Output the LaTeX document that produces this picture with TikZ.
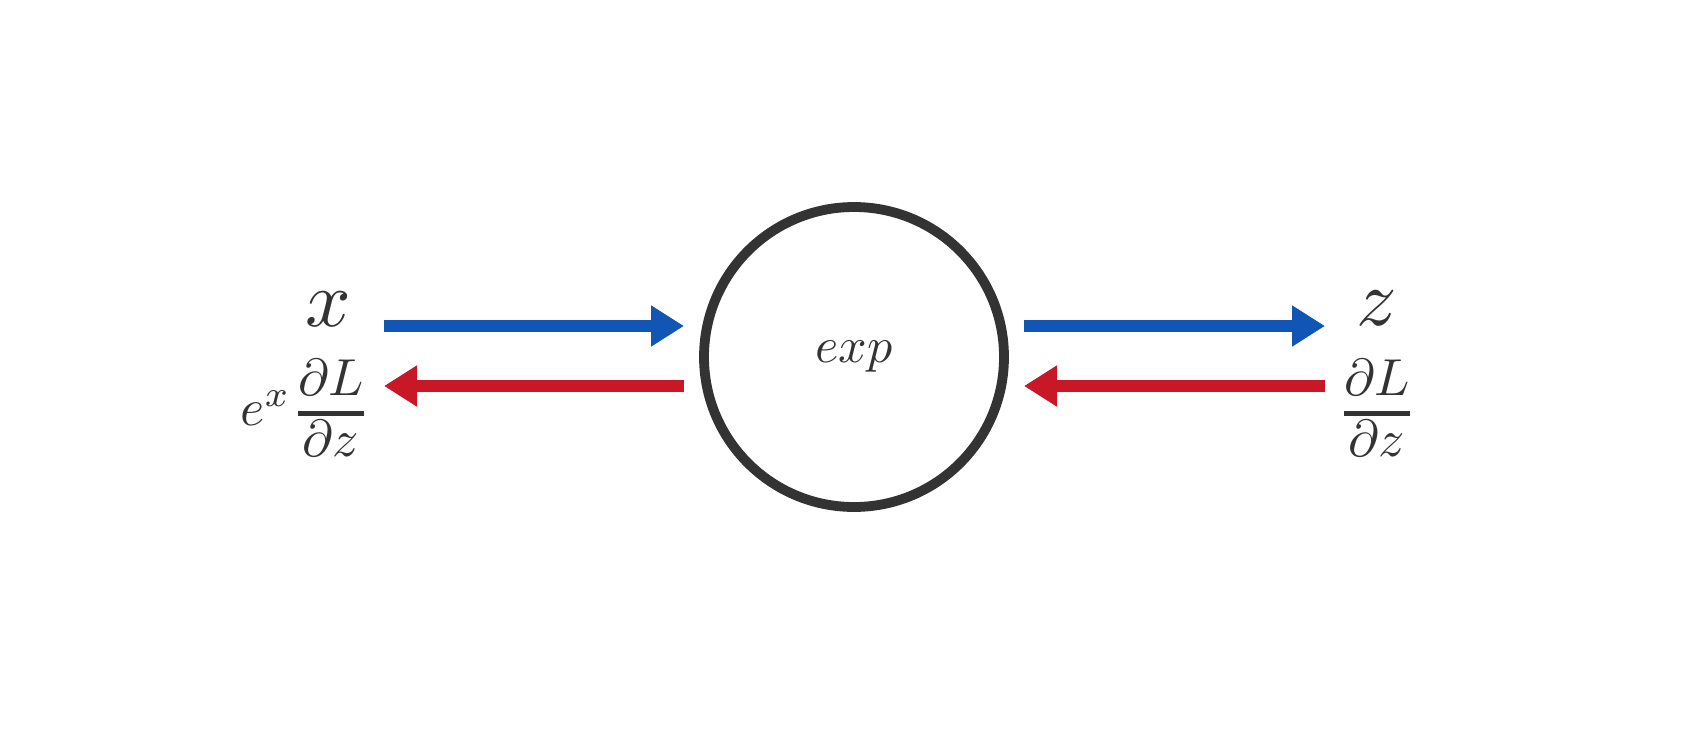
\documentclass[tikz,border=0pt]{standalone}
\usepackage{amsmath}
\usepackage{graphicx}
\usetikzlibrary{arrows.meta}
\definecolor{fwdblue}{HTML}{1155B5}
\definecolor{bwdred}{HTML}{C81828}
\definecolor{ink}{HTML}{333333}
\begin{document}
\begin{tikzpicture}[x=0.5pt,y=-0.5pt,
  fwd/.style={draw=fwdblue, line width=6.35pt, -{Triangle[length=16.5pt,width=19.5pt]}},
  bwd/.style={draw=bwdred, line width=6.35pt, -{Triangle[length=16.5pt,width=19.5pt]}},
  textlabel/.style={text=ink, inner sep=0pt},
  fracbar/.style={draw=ink, line width=2.6pt},
  opnode/.style={draw=ink, line width=4.9pt, circle, minimum size=150pt, inner sep=0pt, text=ink}]
\useasboundingbox (0,0) rectangle (1708,750);
\fill[white] (0,0) rectangle (1708,750);
\node[opnode] (op) at (854,357) {\scalebox{2.5}{$exp$}};
\coordinate (inS) at (384,326);
\coordinate (inE) at (684,326);
\coordinate (gS) at (684,386);
\coordinate (gE) at (384,386);
\coordinate (outS) at (1024,326);
\coordinate (outE) at (1325,326);
\coordinate (ugS) at (1325,386);
\coordinate (ugE) at (1024,386);
\draw[fwd] (inS) -- (inE);
\draw[bwd] (gS) -- (gE);
\draw[fwd] (outS) -- (outE);
\draw[bwd] (ugS) -- (ugE);
\node[textlabel, anchor=base] (xin) at (328,326) {\scalebox{4}{$x$}};
\node[textlabel, anchor=base] (zout) at (1377,325) {\scalebox{4}{$z$}};
% left gradient: e^x dL/dz
\node[textlabel, anchor=base west] (ex) at (240,425.5) {\scalebox{2.6}{$e^{x}$}};
\node[textlabel, anchor=base] (numL) at (331,395) {\scalebox{2.6}{$\partial L$}};
\node[textlabel, anchor=base] (denL) at (331,456) {\scalebox{2.6}{$\partial z$}};
\coordinate (barLa) at (298.3,413.3);
\coordinate (barLb) at (364,413.3);
\draw[fracbar] (barLa) -- (barLb);
% right gradient: dL/dz
\node[textlabel, anchor=base] (numR) at (1377,395) {\scalebox{2.6}{$\partial L$}};
\node[textlabel, anchor=base] (denR) at (1377,456) {\scalebox{2.6}{$\partial z$}};
\coordinate (barRa) at (1344,413.3);
\coordinate (barRb) at (1410,413.3);
\draw[fracbar] (barRa) -- (barRb);
\end{tikzpicture}
\end{document}
